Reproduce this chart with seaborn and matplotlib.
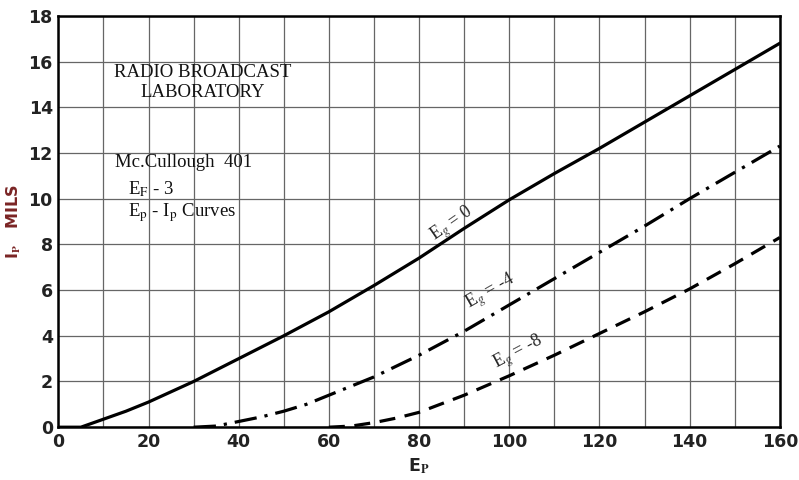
import pandas as pd
import numpy as np
import seaborn as sns
import matplotlib.pyplot as plt

# Ep - Ip curves (plate volts vs plate milliamps)
ep = [0, 5, 10, 15, 20, 25, 30, 40, 50, 60, 70, 80, 90, 100, 110, 120, 130, 140, 150, 160]
ip_eg0 = [0, 0, 0.35, 0.7, 1.1, 1.55, 2.0, 3.0, 4.0, 5.05, 6.2, 7.4, 8.7, 9.95, 11.1, 12.2, 13.35, 14.5, 15.65, 16.8]

ep_m4 = [30, 35, 40, 45, 50, 55, 60, 70, 80, 90, 100, 110, 120, 130, 140, 150, 160]
ip_m4 = [0, 0.05, 0.25, 0.45, 0.7, 1.0, 1.4, 2.2, 3.15, 4.2, 5.35, 6.5, 7.65, 8.8, 10.0, 11.15, 12.3]

ep_m8 = [60, 65, 70, 75, 80, 90, 100, 110, 120, 130, 140, 150, 160]
ip_m8 = [0, 0.05, 0.2, 0.4, 0.65, 1.4, 2.25, 3.15, 4.1, 5.05, 6.05, 7.15, 8.3]

x_ticks = [0, 20, 40, 60, 80, 100, 120, 140, 160]
y_ticks = [0, 2, 4, 6, 8, 10, 12, 14, 16, 18]

df = pd.concat([
    pd.DataFrame({"Ep": ep, "Ip": ip_eg0, "grid": "0"}),
    pd.DataFrame({"Ep": ep_m4, "Ip": ip_m4, "grid": "-4"}),
    pd.DataFrame({"Ep": ep_m8, "Ip": ip_m8, "grid": "-8"}),
])

sns.set_style("white")
plt.rcParams["font.family"] = ["DejaVu Sans"]
plt.rcParams["mathtext.fontset"] = "stix"

fig = plt.figure(figsize=(7.99, 4.8), dpi=100)
ax = fig.add_axes([0.073, 0.11, 0.903, 0.857])

sns.lineplot(data=df, x="Ep", y="Ip", style="grid", color="black", linewidth=2.3,
             dashes={"0": "", "-4": (7, 2.5, 1, 2.5), "-8": (5, 3)},
             legend=False, ax=ax, estimator=None, sort=False)

ax.set_xlim(0, 160)
ax.set_ylim(0, 18)
ax.set_xticks(x_ticks)
ax.set_yticks(y_ticks)
ax.set_xticks(np.arange(0, 161, 10), minor=True)
ax.grid(which="both", color="#666666", linewidth=0.9)
ax.tick_params(labelsize=12.5, length=0, pad=4)
for lab in ax.get_xticklabels() + ax.get_yticklabels():
    lab.set_fontweight("bold")
    lab.set_color("#222222")
for s in ax.spines.values():
    s.set_color("black")
    s.set_linewidth(1.8)

ax.set_xlabel(r"E$_{\mathbf{P}}$", fontsize=12.5, fontweight="bold", color="#222222")
ax.set_ylabel(r"I$_{\mathbf{P}}$   MILS", fontsize=11.5, fontweight="bold", color="#7a2424", labelpad=4)

serif = "Liberation Serif"
ax.text(32, 15.07, "RADIO BROADCAST\nLABORATORY", ha="center", va="center",
        fontsize=13.5, family=serif, linespacing=1.25, color="#111111")
ax.text(12.6, 11.58, "Mc.Cullough  401", fontsize=13.5, family=serif, va="center", color="#111111")
ax.text(15.5, 10.4, r"E$_{\mathrm{F}}$ - 3", fontsize=13.5, family=serif, va="center", color="#111111")
ax.text(15.5, 9.4, r"E$_{\mathrm{p}}$ - I$_{\mathrm{p}}$ Curves", fontsize=13.5, family=serif,
        va="center", color="#111111")

ax.text(84.5, 7.9, r"E$_g$ = 0", fontsize=13, family=serif, rotation=35,
        ha="left", va="bottom", rotation_mode="anchor")
ax.text(92, 4.9, r"E$_g$ = -4", fontsize=13, family=serif, rotation=30,
        ha="left", va="bottom", rotation_mode="anchor")
ax.text(98, 2.3, r"E$_g$ = -8", fontsize=13, family=serif, rotation=28,
        ha="left", va="bottom", rotation_mode="anchor")

fig.savefig("out.png", dpi=100)
